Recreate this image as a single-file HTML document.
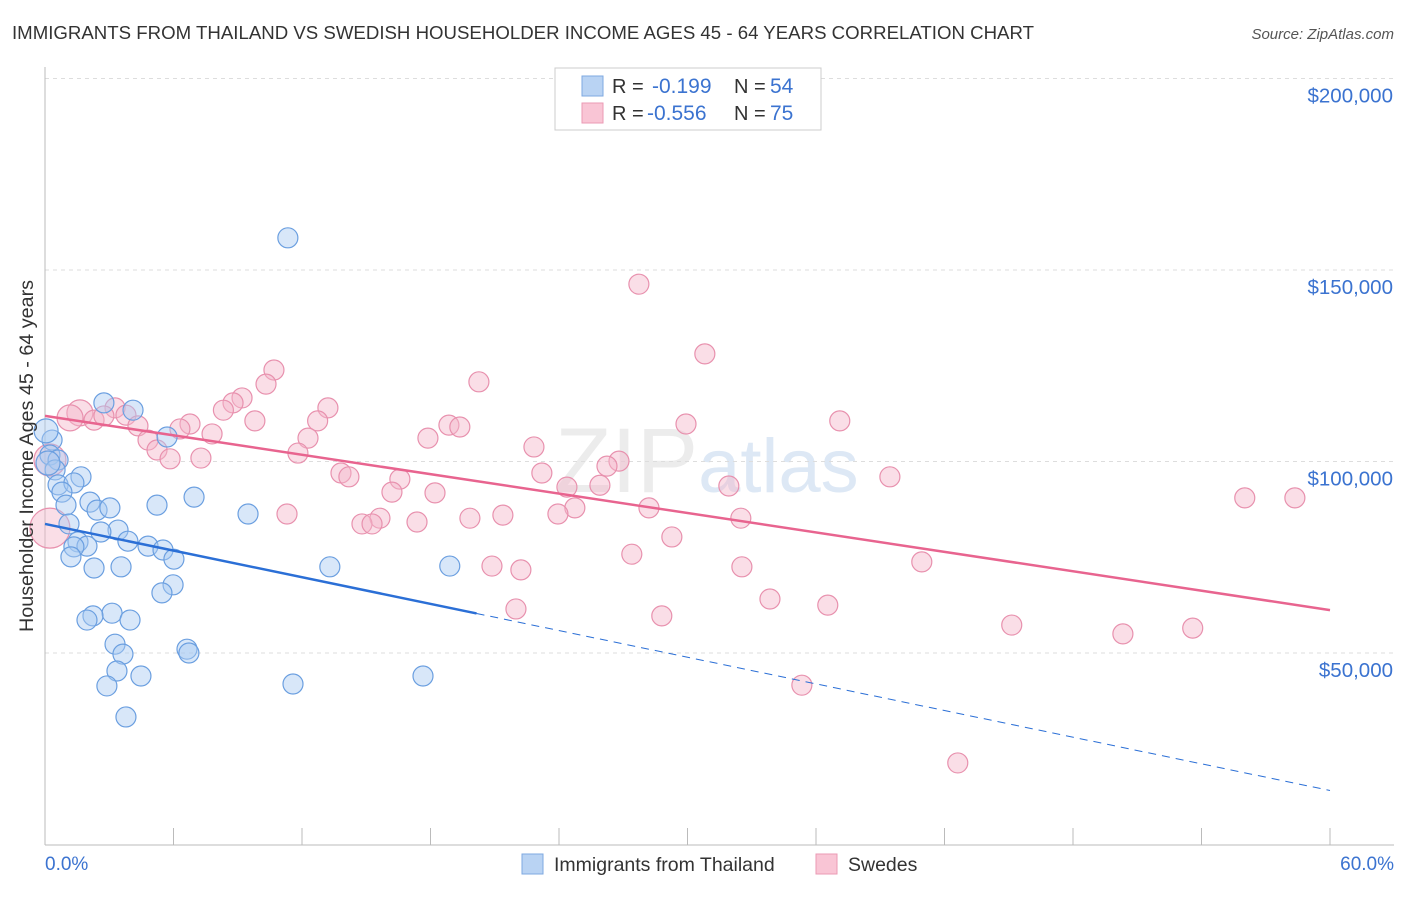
<!DOCTYPE html>
<html><head><meta charset="utf-8"><style>
body{margin:0;background:#fff;font-family:"Liberation Sans",sans-serif;}
svg text{font-family:"Liberation Sans",sans-serif;}
</style></head><body>
<svg id="chart" width="1406" height="892" xmlns="http://www.w3.org/2000/svg">
<text x="12" y="39" font-size="18.6" fill="#333" textLength="1022" lengthAdjust="spacingAndGlyphs">IMMIGRANTS FROM THAILAND VS SWEDISH HOUSEHOLDER INCOME AGES 45 - 64 YEARS CORRELATION CHART</text>
<text x="1394" y="39" font-size="15" fill="#555" text-anchor="end" font-style="italic">Source: ZipAtlas.com</text>
<text x="555" y="492" font-size="92" fill="#ececec" font-family="Liberation Serif">ZIP<tspan fill="#dde8f5" font-family="Liberation Sans" font-size="76">atlas</tspan></text>
<g id="grid"></g>
<g id="axes"></g>
<g id="marks"></g>
<text transform="translate(33,456) rotate(-90)" font-size="19" fill="#333" text-anchor="middle" textLength="352" lengthAdjust="spacingAndGlyphs">Householder Income Ages 45 - 64 years</text>
<g>
<rect x="555" y="68" width="266" height="62" fill="#fff" stroke="#ccc"/>
<rect x="582" y="76" width="21" height="20" fill="#b9d3f3" stroke="#7ea8e0"/>
<rect x="582" y="103" width="21" height="20" fill="#f9c5d5" stroke="#eb9ab4"/>
<text x="612" y="93" font-size="20" fill="#333">R = </text><text x="652" y="93" font-size="21" fill="#3b73d0">-0.199</text>
<text x="734" y="93" font-size="20" fill="#333">N = </text><text x="770" y="93" font-size="21" fill="#3b73d0">54</text>
<text x="612" y="120" font-size="20" fill="#333">R = </text><text x="647" y="120" font-size="21" fill="#3b73d0">-0.556</text>
<text x="734" y="120" font-size="20" fill="#333">N = </text><text x="770" y="120" font-size="21" fill="#3b73d0">75</text>
</g>
<g>
<rect x="522" y="854" width="21" height="20" fill="#b9d3f3" stroke="#7ea8e0"/>
<text x="554" y="871" font-size="19.5" fill="#333">Immigrants from Thailand</text>
<rect x="816" y="854" width="21" height="20" fill="#f9c5d5" stroke="#eb9ab4"/>
<text x="848" y="871" font-size="19.5" fill="#333">Swedes</text>
</g>
</svg>
<script>
const yTicks=[50000,100000,150000,200000];
const yTickLabels=["$50,000","$100,000","$150,000","$200,000"];
const xTicks=[0,6,12,18,24,30,36,42,48,54,60];
const blueX=[11.34,2.75,4.11,5.70,0.33,0.23,0.61,0.47,1.68,0.61,1.35,0.79,6.96,2.1,0.98,5.23,2.43,3.03,9.48,1.12,3.41,2.61,3.87,1.54,1.96,1.35,4.81,5.51,1.21,6.02,2.29,3.55,13.3,18.9,5.98,5.46,3.13,2.24,1.96,3.97,3.27,6.63,6.72,3.64,3.36,4.48,2.89,11.58,17.65,3.78,0.05,0.14];
const blueY=[158400,115300,113400,106400,105600,101700,100400,97800,96000,93900,94400,92000,90700,89400,88600,88600,87300,87900,86300,83700,82100,81600,79200,79000,77900,77700,77900,76900,75100,74500,72200,72500,72500,72700,67800,65700,60400,59700,58600,58600,52300,51000,50000,49700,45300,44000,41400,41900,44000,33300,108000,99600];
const pinkX=[27.73,30.81,10.69,20.26,10.32,9.2,8.78,3.27,8.33,13.21,3.78,1.63,1.17,2.29,2.75,9.8,12.73,37.11,29.93,6.77,6.3,18.86,19.37,4.34,7.8,4.81,12.28,17.88,22.83,5.23,11.81,7.28,5.84,26.8,26.24,23.2,13.82,14.19,39.45,16.57,24.37,25.91,31.93,16.2,18.21,56.02,58.36,28.2,24.74,11.3,21.38,19.84,23.95,32.49,15.64,17.37,14.8,15.27,29.27,27.4,40.94,32.54,20.87,22.22,33.85,36.55,21.99,28.8,45.14,53.59,50.33,35.34,42.62,0.23,0.23];
const pinkY=[146300,128100,123900,120800,120200,116600,115300,114000,113400,114000,112100,112700,111400,110800,111900,110600,110600,110600,109800,109800,108500,109500,109000,109300,107200,105600,106100,106100,103800,103000,102200,100900,100700,100100,98800,97000,97000,96000,96000,95400,93300,93800,93600,92000,91800,90500,90500,87900,87900,86300,86000,85200,86300,85200,85200,84200,83700,83700,80300,75800,73800,72500,72700,71700,64100,62500,61500,59700,57300,56500,55000,41600,21300,100400,82600];
const pinkR=[10,10,10,10,10,10,10,10,10,10,10,13,13,10,10,10,10,10,10,10,10,10,10,10,10,10,10,10,10,10,10,10,10,10,10,10,10,10,10,10,10,10,10,10,10,10,10,10,10,10,10,10,10,10,10,10,10,10,10,10,10,10,10,10,10,10,10,10,10,10,10,10,10,16,20];
const blueTrend=[83700,-1160];
const blueSolidEnd=20.15;
const pinkTrend=[111900,-845];
const X=v=>45+v*1285/60;
const Y=v=>653-(v-50000)*191.5/50000;
const NS="http://www.w3.org/2000/svg";
function mk(tag,attrs,parent){const e=document.createElementNS(NS,tag);for(const k in attrs)e.setAttribute(k,attrs[k]);parent.appendChild(e);return e;}
const grid=document.getElementById('grid'),axes=document.getElementById('axes'),marks=document.getElementById('marks');
yTicks.forEach((t,i)=>{
 const l=mk('line',{x1:45,x2:1394,y1:Y(t),y2:Y(t),stroke:'#ddd','stroke-dasharray':'4,4'},grid);
 
 
 const tx=mk('text',{x:1393,y:Y(t)+24,'font-size':20.5,fill:'#3b73d0','text-anchor':'end'},axes);
 tx.textContent=yTickLabels[i];
 
 
});
const ax=mk('line',{x1:45,x2:45,y1:67,y2:845,stroke:'#bbb'},axes);


const bx=mk('line',{x1:45,x2:1394,y1:845,y2:845,stroke:'#bbb'},axes);


xTicks.forEach(t=>{const l=mk('line',{x1:X(t),x2:X(t),y1:828,y2:845,stroke:'#bbb'},axes);
 
 });
const x0=mk('text',{x:45,y:870,'font-size':19,fill:'#3b73d0'},axes);x0.textContent='0.0%';


const x1=mk('text',{x:1394,y:870,'font-size':19,fill:'#3b73d0','text-anchor':'end'},axes);x1.textContent='60.0%';


pinkX.forEach((x,i)=>{const c=mk('circle',{cx:X(x),cy:Y(pinkY[i]),r:pinkR[i],fill:'#f5b6ca','fill-opacity':0.45,stroke:'#e891ae','stroke-width':1.2},marks);
 
 });
blueX.forEach((x,i)=>{const c=mk('circle',{cx:X(x),cy:Y(blueY[i]),r:(i>=50?12:10),fill:'#a9c9f1','fill-opacity':0.45,stroke:'#6b9fe0','stroke-width':1.2},marks);
 
 });
const f=(tr,x)=>tr[0]+tr[1]*x;
const pl=mk('line',{x1:X(0),y1:Y(f(pinkTrend,0)),x2:X(60),y2:Y(f(pinkTrend,60)),stroke:'#e8648f','stroke-width':2.5},marks);


const bl=mk('line',{x1:X(0),y1:Y(f(blueTrend,0)),x2:X(blueSolidEnd),y2:Y(f(blueTrend,blueSolidEnd)),stroke:'#2b6fd6','stroke-width':2.5},marks);


const bd=mk('line',{x1:X(blueSolidEnd),y1:Y(f(blueTrend,blueSolidEnd)),x2:X(60),y2:Y(f(blueTrend,60)),stroke:'#2b6fd6','stroke-width':1,'stroke-dasharray':'8,6'},marks);


</script>
</body></html>
